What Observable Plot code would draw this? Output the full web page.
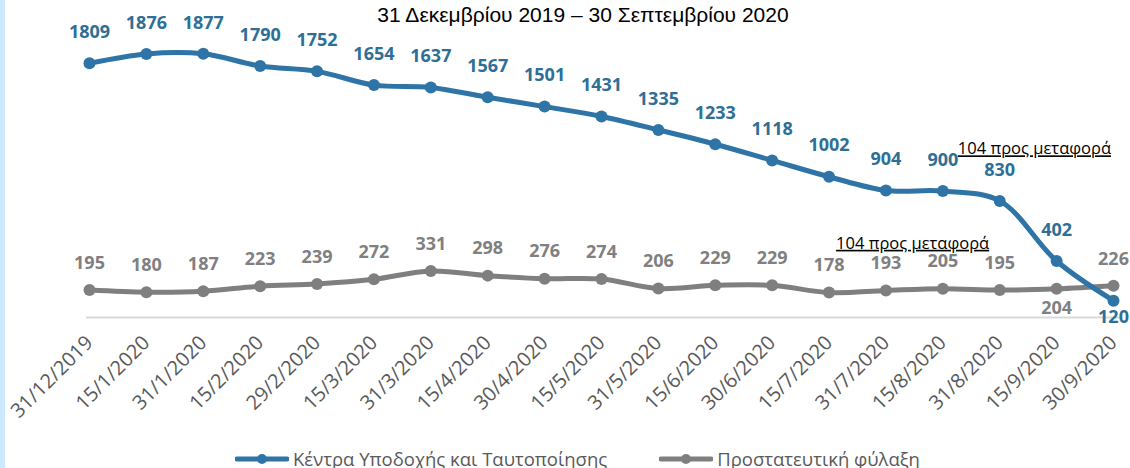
<!DOCTYPE html>
<html><head><meta charset="utf-8">
<script src="https://cdn.jsdelivr.net/npm/d3@7"></script>
<script src="https://cdn.jsdelivr.net/npm/@observablehq/plot@0.6"></script>
<style>
body{margin:0;background:#fff;width:1130px;height:468px;overflow:hidden;position:relative;font-family:"Open Sans",sans-serif;}
#band{position:absolute;left:0;top:0;width:5px;height:468px;background:#cce9ff;}
#sub{position:absolute;top:3px;left:0;width:1166px;text-align:center;font:21px "Liberation Sans",Arial,sans-serif;color:#000;}
#chart{position:absolute;left:0;top:0;}
#legend{position:absolute;top:446px;left:235px;display:flex;align-items:center;font-size:18.5px;color:#595959;white-space:nowrap;}
#legend .item{display:flex;align-items:center;}
#legend svg{margin-right:4px;}
</style>
</head><body>
<div id="chart"></div>
<div id="band"></div>
<div id="sub">31 Δεκεμβρίου 2019 – 30 Σεπτεμβρίου 2020</div>
<div id="legend"></div>
<script>
const dates = ["31/12/2019","15/1/2020","31/1/2020","15/2/2020","29/2/2020","15/3/2020","31/3/2020","15/4/2020","30/4/2020","15/5/2020","31/5/2020","15/6/2020","30/6/2020","15/7/2020","31/7/2020","15/8/2020","31/8/2020","15/9/2020","30/9/2020"];
const rycValues = [1809,1876,1877,1790,1752,1654,1637,1567,1501,1431,1335,1233,1118,1002,904,900,830,402,120];
const custodyValues = [195,180,187,223,239,272,331,298,276,274,206,229,229,178,193,205,195,204,226];
const seriesNames = ["Κέντρα Υποδοχής και Ταυτοποίησης","Προστατευτική φύλαξη"];
const annotationText = "104 προς μεταφορά";
const annotationRyc = [{date:"15/8/2020", value:900}];
const annotationCustody = [{date:"15/7/2020", value:178}];

const BLUE = "#2e74a6", BLUE_LBL = "#2e6f95", GRAY = "#7f7f7f", GRAY_LBL = "#808080";

const ryc = dates.map((d,i)=>({date:d, value:rycValues[i], below: i===dates.length-1}));
const cust = dates.map((d,i)=>({date:d, value:custodyValues[i], below: i===dates.length-2}));

const underline = (index, scales, values, dims, ctx, next) => {
  const g = next(index, scales, values, dims, ctx);
  g.style.textDecoration = "underline";
  return g;
};

const chart = Plot.plot({
  width: 1130, height: 440,
  marginLeft: 89, marginRight: 17, marginTop: 36, marginBottom: 123,
  style: {fontFamily: '"Open Sans", sans-serif', background: "transparent"},
  x: {type: "point", domain: dates, padding: 0, round: false, axis: null, label: null},
  y: {domain: [0, 2000], axis: null},
  marks: [
    Plot.ruleY([0], {stroke: "#d9d9d9", strokeWidth: 2, insetLeft: -3, insetRight: -9}),
    Plot.axisX({tickRotate: -45, tickSize: 0, tickPadding: 22, fontSize: 20, color: "#595959", fill: "#595959", label: null}),
    Plot.line(cust, {x: "date", y: "value", stroke: GRAY, strokeWidth: 5, curve: "catmull-rom"}),
    Plot.dot(cust, {x: "date", y: "value", fill: GRAY, r: 6}),
    Plot.line(ryc, {x: "date", y: "value", stroke: BLUE, strokeWidth: 5, curve: "catmull-rom"}),
    Plot.dot(ryc, {x: "date", y: "value", fill: BLUE, r: 6}),
    Plot.text(ryc.filter(d=>!d.below), {x: "date", y: "value", text: d=>String(d.value), dy: -31, fill: BLUE_LBL, fontSize: 18, fontWeight: "bold"}),
    Plot.text(ryc.filter(d=>d.below), {x: "date", y: "value", text: d=>String(d.value), dy: 17, fill: BLUE_LBL, fontSize: 18, fontWeight: "bold"}),
    Plot.text(cust.filter(d=>!d.below), {x: "date", y: "value", text: d=>String(d.value), dy: -27, fill: GRAY_LBL, fontSize: 18, fontWeight: "bold"}),
    Plot.text(cust.filter(d=>d.below), {x: "date", y: "value", text: d=>String(d.value), dy: 19, fill: GRAY_LBL, fontSize: 18, fontWeight: "bold"}),
    Plot.text(annotationRyc, {x: "date", y: "value", text: () => annotationText, dx: 15, dy: -42, textAnchor: "start", fill: "#000", fontSize: 16.5, render: underline}),
    Plot.text(annotationCustody, {x: "date", y: "value", text: () => annotationText, dx: 7, dy: -49, textAnchor: "start", fill: "#000", fontSize: 16.5, render: underline})
  ]
});
document.getElementById("chart").appendChild(chart);

const legend = document.getElementById("legend");
[[seriesNames[0], BLUE],[seriesNames[1], GRAY]].forEach(([name, color], i) => {
  const item = document.createElement("div");
  item.className = "item";
  if (i > 0) item.style.marginLeft = "52px";
  item.innerHTML = `<svg width="54" height="14"><line x1="2" y1="7" x2="52" y2="7" stroke="${color}" stroke-width="5" stroke-linecap="round"/><circle cx="27" cy="7" r="5" fill="${color}"/></svg><span>${name}</span>`;
  legend.appendChild(item);
});
</script>
</body></html>
